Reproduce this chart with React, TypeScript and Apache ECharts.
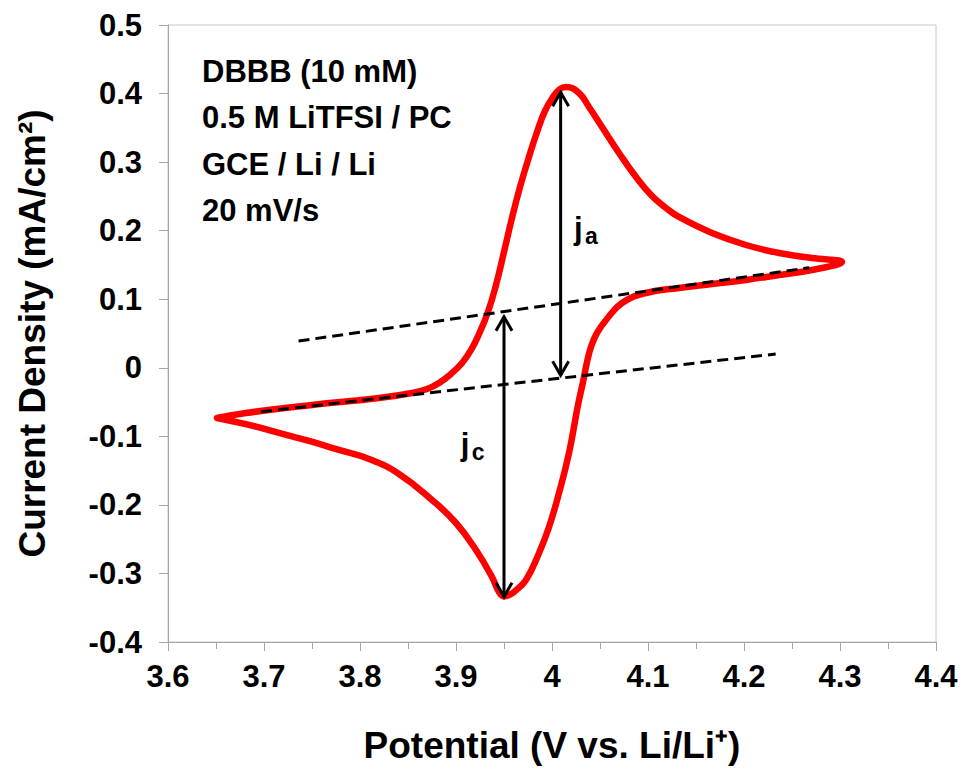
import React, { useEffect, useRef } from "react";
import * as echarts from "echarts";

// Forward (anodic) scan: left vertex -> right vertex
const forwardX = [
  3.651, 3.6813, 3.75, 3.8198, 3.8542, 3.8698, 3.8823, 3.8948, 3.9063, 3.9156, 3.924, 3.9333, 3.9417, 3.95,
  3.9583, 3.9667, 3.976, 3.9844, 3.9927, 4.001, 4.0083, 4.0146, 4.0281, 4.0385, 4.0521, 4.0698, 4.0875,
  4.1042, 4.1188, 4.1323, 4.1667, 4.2021, 4.2365, 4.2708, 4.3021,
];
const forwardY = [
  -0.0732, -0.0659, -0.0543, -0.0441, -0.0368, -0.031, -0.0222, -0.009, 0.007, 0.0259, 0.0493, 0.0814, 0.1208, 0.1689,
  0.2185, 0.2637, 0.3075, 0.3439, 0.3746, 0.395, 0.4067, 0.4096, 0.4008, 0.3804, 0.3512, 0.3133, 0.2783,
  0.2505, 0.2331, 0.22, 0.1966, 0.1791, 0.1674, 0.1602, 0.1543,
];
// Reverse (cathodic) scan: right vertex -> left vertex
const reverseX = [
  4.2708, 4.2365, 4.2021, 4.1667, 4.1323, 4.0979, 4.0729, 4.0563, 4.0469, 4.0406, 4.0365, 4.0323, 4.0271,
  4.0177, 4.0073, 3.9969, 3.9865, 3.9729, 3.9604, 3.9552, 3.95, 3.9448, 3.9375, 3.9208, 3.9, 3.875, 3.8406,
  3.8094, 3.7781, 3.7469, 3.7156, 3.6844, 3.651,
];
const reverseY = [
  0.1427, 0.1354, 0.1281, 0.1222, 0.1164, 0.1091, 0.0945, 0.0697, 0.0508, 0.0303, 0.0085, -0.0207, -0.0542,
  -0.1243, -0.1826, -0.2322, -0.2701, -0.3095, -0.327, -0.3314, -0.3335, -0.327, -0.3051, -0.2658, -0.2264, -0.1928, -0.1549,
  -0.133, -0.1199, -0.1068, -0.0951, -0.0834, -0.0732,
];

// Dashed baselines
const baselineUpperX = [3.736, 4.268];
const baselineUpperY = [0.039, 0.146];
const baselineLowerX = [3.697, 4.233];
const baselineLowerY = [-0.064, 0.02];

// Peak-current arrows (ja, jc)
const arrowX = [4.009, 3.95];
const arrowTop = [0.402, 0.0745];
const arrowBottom = [-0.011, -0.334];
const arrowLabelMain = ["j", "j"];
const arrowLabelSub = ["a", "c"];
const arrowLabelX = [4.0229, 3.905];
const arrowLabelY = [0.2025, -0.1126];

const notes = ["DBBB (10 mM)", "0.5 M LiTFSI / PC", "GCE / Li / Li", "20 mV/s"];

const xTitle = "Potential (V vs. Li/Li⁺)";
const yTitle = "Current Density (mA/cm²)";

const FONT = "'Liberation Sans', Arial, Helvetica, sans-serif";

export default function App() {
  const ref = useRef<HTMLDivElement>(null);

  useEffect(() => {
    document.body.style.margin = "0";
    if (!ref.current) return;
    const chart = echarts.init(ref.current, undefined, { renderer: "svg" });

    const cvData: number[][] = [];
    forwardX.forEach((x, i) => cvData.push([x, forwardY[i]]));
    reverseX.forEach((x, i) => cvData.push([x, reverseY[i]]));

    const fmt = (v: number) => String(Math.round(v * 10) / 10);

    const axisLineColor = "#a6a6a6";

    const option: any = {
      animation: false,
      backgroundColor: "#ffffff",
      grid: {
        left: 168,
        top: 25,
        right: 26,
        bottom: 136,
        show: true,
        borderColor: "#c8c8c8",
        borderWidth: 1,
      },
      xAxis: {
        type: "value",
        min: 3.6,
        max: 4.4,
        interval: 0.1,
        name: xTitle,
        nameLocation: "middle",
        nameGap: 85,
        nameTextStyle: { fontFamily: FONT, fontWeight: "bold", fontSize: 37, color: "#000" },
        axisLine: { show: true, onZero: false, lineStyle: { color: axisLineColor, width: 1 } },
        axisTick: { show: true, inside: false, length: 9, lineStyle: { color: axisLineColor } },
        minorTick: { show: true, splitNumber: 2, length: 7, lineStyle: { color: axisLineColor } },
        splitLine: { show: false },
        axisLabel: {
          formatter: fmt,
          fontFamily: FONT,
          fontWeight: "bold",
          fontSize: 31,
          color: "#000",
          margin: 19,
        },
      },
      yAxis: {
        type: "value",
        min: -0.4,
        max: 0.5,
        interval: 0.1,
        name: yTitle,
        nameLocation: "middle",
        nameGap: 117,
        nameTextStyle: { fontFamily: FONT, fontWeight: "bold", fontSize: 37, color: "#000" },
        axisLine: { show: true, onZero: false, lineStyle: { color: axisLineColor, width: 1 } },
        axisTick: { show: true, inside: false, length: 9, lineStyle: { color: axisLineColor } },
        splitLine: { show: false },
        axisLabel: {
          formatter: fmt,
          fontFamily: FONT,
          fontWeight: "bold",
          fontSize: 31,
          color: "#000",
          margin: 26,
        },
      },
      graphic: notes.map((t, i) => ({
        type: "text",
        left: 202,
        top: 72 + i * 46.3 - 16,
        style: {
          text: t,
          font: `bold 31px ${FONT}`,
          fill: "#000",
        },
      })),
      series: [
        {
          type: "line",
          name: "baseline upper",
          data: baselineUpperX.map((x, i) => [x, baselineUpperY[i]]),
          showSymbol: false,
          lineStyle: { color: "#000", width: 3, type: [11, 6] },
          z: 3,
        },
        {
          type: "line",
          name: "baseline lower",
          data: baselineLowerX.map((x, i) => [x, baselineLowerY[i]]),
          showSymbol: false,
          lineStyle: { color: "#000", width: 3, type: [11, 6] },
          z: 3,
        },
        {
          type: "line",
          name: "CV",
          data: cvData,
          showSymbol: false,
          smooth: 0.45,
          lineStyle: { color: "#ff0000", width: 6.5, cap: "round", join: "round" },
          z: 2,
        },
        {
          type: "custom",
          name: "arrows",
          data: arrowX.map((x, i) => [x, arrowTop[i], arrowBottom[i], arrowLabelX[i], arrowLabelY[i]]),
          z: 4,
          renderItem: (params: any, api: any) => {
            const i = params.dataIndex;
            const x = api.value(0);
            const t = api.coord([x, api.value(1)]);
            const b = api.coord([x, api.value(2)]);
            const lp = api.coord([api.value(3), api.value(4)]);
            const hl = 14;
            const hw = 8;
            const st = { stroke: "#000", lineWidth: 3, fill: "none" };
            return {
              type: "group",
              children: [
                { type: "line", shape: { x1: t[0], y1: t[1], x2: b[0], y2: b[1] }, style: st },
                {
                  type: "polyline",
                  shape: { points: [[t[0] - hw, t[1] + hl], [t[0], t[1]], [t[0] + hw, t[1] + hl]] },
                  style: st,
                },
                {
                  type: "polyline",
                  shape: { points: [[b[0] - hw, b[1] - hl], [b[0], b[1]], [b[0] + hw, b[1] - hl]] },
                  style: st,
                },
                {
                  type: "text",
                  x: lp[0],
                  y: lp[1],
                  style: {
                    text: arrowLabelMain[i],
                    font: `bold 31px ${FONT}`,
                    fill: "#000",
                    align: "left",
                    verticalAlign: "middle",
                  },
                },
                {
                  type: "text",
                  x: lp[0] + 11,
                  y: lp[1] + 7,
                  style: {
                    text: arrowLabelSub[i],
                    font: `bold 23px ${FONT}`,
                    fill: "#000",
                    align: "left",
                    verticalAlign: "middle",
                  },
                },
              ],
            };
          },
        },
      ],
    };

    chart.setOption(option);
    return () => chart.dispose();
  }, []);

  return (
    <div
      ref={ref}
      style={{ position: "fixed", left: 0, top: 0, width: 962, height: 778, background: "#fff" }}
    />
  );
}
